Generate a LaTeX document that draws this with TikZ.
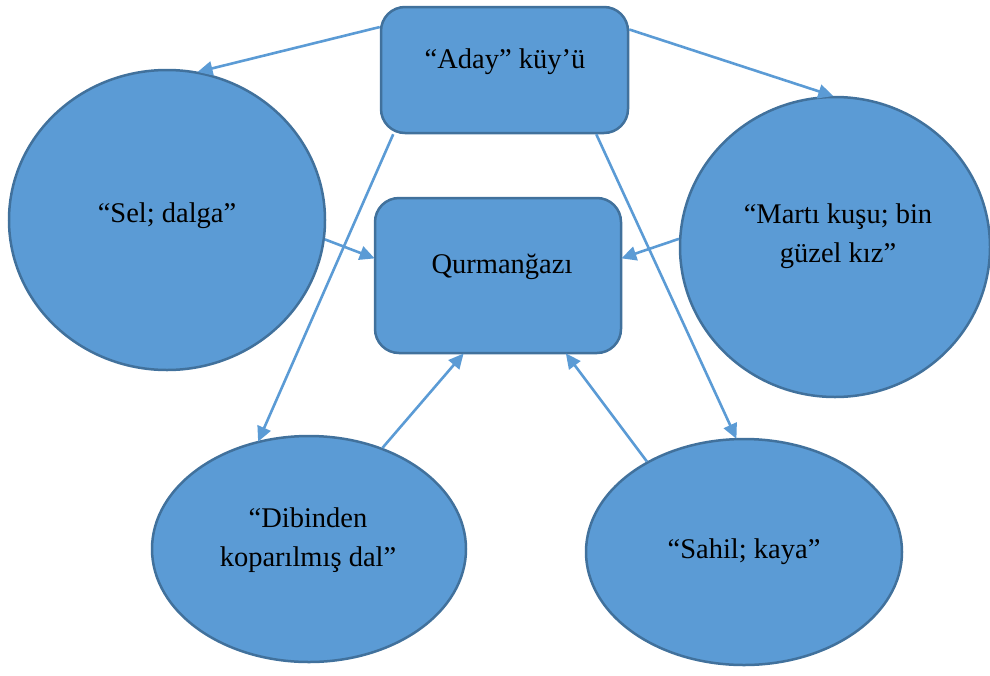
\documentclass[tikz,border=0pt]{standalone}
\usepackage{fontspec}
\setmainfont{Liberation Serif}
\usetikzlibrary{shapes.geometric,arrows.meta}
\definecolor{fillblue}{HTML}{5B9BD5}
\definecolor{edgeblue}{HTML}{41719C}
\tikzset{
  box/.style={draw=edgeblue, fill=fillblue, line width=2.5pt, rounded corners=24pt, inner sep=0pt},
  oval/.style={draw=edgeblue, fill=fillblue, line width=2.5pt, ellipse, inner sep=0pt},
  lbl/.style={font=\fontsize{28.5}{39}\selectfont, align=center, inner sep=0pt},
  link/.style={draw=fillblue, line width=2.6pt, -{Triangle[length=15pt,width=14pt]}, shorten >=-1pt}
}
\begin{document}
\begin{tikzpicture}[x=1pt,y=-1pt]
\useasboundingbox (0,0) rectangle (990,675);

% shapes
\node[box, minimum width=247pt, minimum height=126pt] (aday) at (504.5,70) {};
\node[box, minimum width=246pt, minimum height=155pt] (qurm) at (498,275.5) {};
\node[oval, minimum width=316pt, minimum height=300pt] (sel) at (167,220) {};
\node[oval, minimum width=310pt, minimum height=300pt] (marti) at (835,247) {};
\node[oval, minimum width=314pt, minimum height=226pt] (dal) at (309,549) {};
\node[oval, minimum width=316pt, minimum height=226pt] (sahil) at (744,552) {};

% texts
\node[lbl, anchor=base] (tAday) at (505,68) {“Aday” küy’ü};
\node[lbl, anchor=base] (tQurm) at (502,273) {Qurmanğazı};
\node[lbl, anchor=base] (tSel) at (167,222) {“Sel; dalga”};
\node[lbl] (tMarti) at (838,236) {“Martı kuşu; bin\\güzel kız”};
\node[lbl] (tDal) at (308,540) {“Dibinden\\koparılmış dal”};
\node[lbl, anchor=base] (tSahil) at (744,558) {“Sahil; kaya”};

% connectors
\draw[link] (aday.161) -- (sel.78);
\draw[link] (aday.18) -- (marti.91);
\draw[link] (aday.210) -- (dal.115);
\draw[link] (aday.-35) -- (sahil.94);
\draw[link] (sel.-7) -- (qurm.172);
\draw[link] (marti.177) -- (qurm.8);
\draw[link] (dal.54) -- (qurm.246);
\draw[link] (sahil.137) -- (qurm.-49);
\end{tikzpicture}
\end{document}
